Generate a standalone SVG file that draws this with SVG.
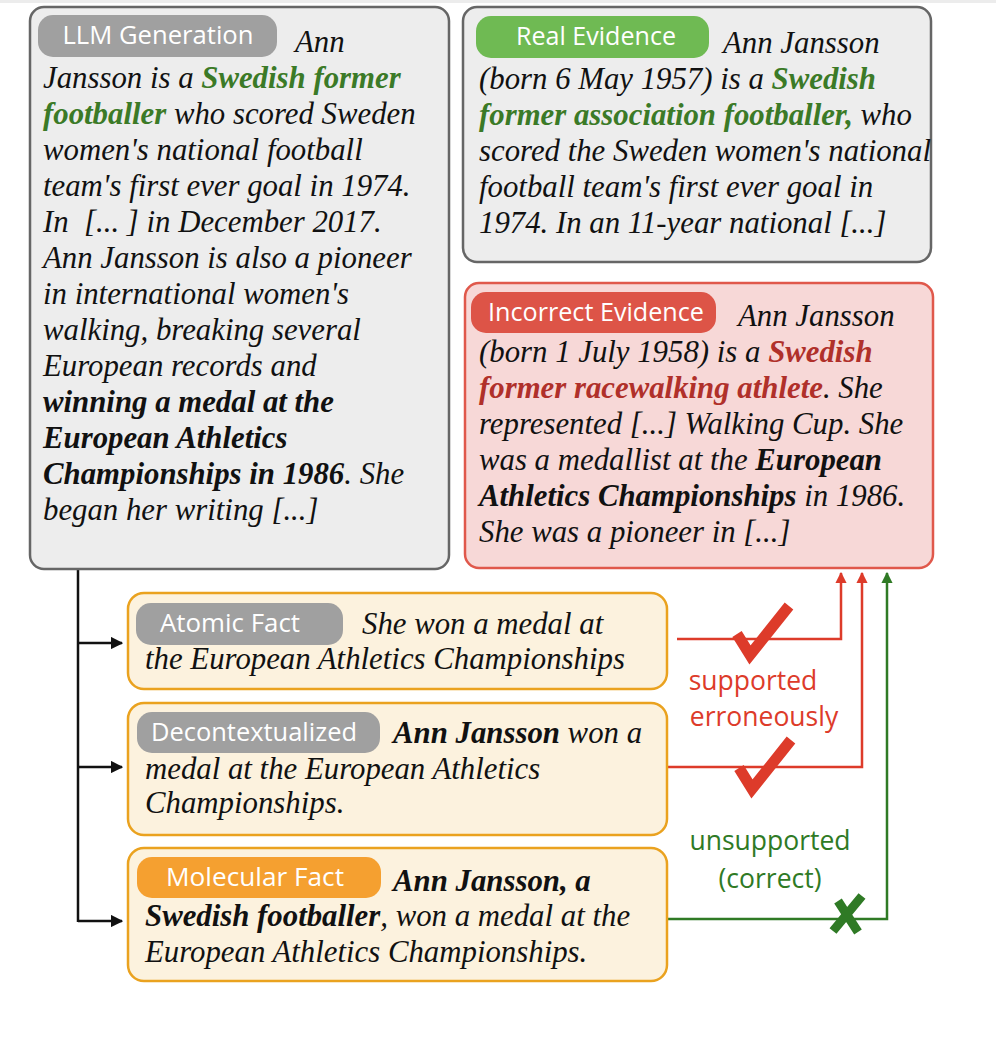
<svg xmlns="http://www.w3.org/2000/svg" width="996" height="1064" viewBox="0 0 996 1064">
<style>
.t{font-family:"Liberation Serif","Times New Roman",serif;font-style:italic;font-size:30.8px;fill:#111}
.b{font-weight:bold}
.g{fill:#3b7a27;font-weight:bold}
.r{fill:#b0302a;font-weight:bold}
.pl{font-family:"Open Sans","Noto Sans",sans-serif;font-size:26px;fill:#fff;text-anchor:middle}
.lab{font-family:"Open Sans","Noto Sans",sans-serif;font-size:26.5px;text-anchor:middle}
.gbox{fill:#ededed;stroke:#666;stroke-width:2.5}
.ybox{fill:#fcf2de;stroke:#eaa21f;stroke-width:2.5}
.conn{fill:none;stroke-width:2.5}
</style>
<defs>
<marker id="ab" viewBox="0 0 10 10" refX="9" refY="5" markerWidth="5" markerHeight="5" orient="auto"><path d="M0,0 L10,5 L0,10 z" fill="#111"/></marker>
<marker id="ar" viewBox="0 0 10 10" refX="9" refY="5" markerWidth="4.5" markerHeight="4.5" orient="auto"><path d="M0,0 L10,5 L0,10 z" fill="#dd3b2a"/></marker>
<marker id="ag" viewBox="0 0 10 10" refX="9" refY="5" markerWidth="4.5" markerHeight="4.5" orient="auto"><path d="M0,0 L10,5 L0,10 z" fill="#2f7a25"/></marker>
</defs>
<rect x="0" y="0" width="996" height="3" fill="#ececec"/>

<g id="connectors">
<path class="conn" stroke="#111" d="M78,569 V922"/>
<path class="conn" stroke="#111" d="M78,643 H122" marker-end="url(#ab)"/>
<path class="conn" stroke="#111" d="M78,767 H122" marker-end="url(#ab)"/>
<path class="conn" stroke="#111" d="M78,921 H122" marker-end="url(#ab)"/>
<path class="conn" stroke="#dd3b2a" d="M677,639 H841 V573" marker-end="url(#ar)"/>
<path class="conn" stroke="#dd3b2a" d="M667,767 H862 V573" marker-end="url(#ar)"/>
<path class="conn" stroke="#2f7a25" d="M667,919 H887 V573" marker-end="url(#ag)"/>
<path d="M737,634 L750,655 L789,606" fill="none" stroke="#dd3b2a" stroke-width="11" stroke-linejoin="miter" stroke-linecap="butt"/>
<path d="M739,768 L752,789 L791,740" fill="none" stroke="#dd3b2a" stroke-width="11" stroke-linejoin="miter" stroke-linecap="butt"/>
<path d="M833,931 L862,896 M838,901 L858,932" fill="none" stroke="#2f7a25" stroke-width="9"/>
<text class="lab" x="753" y="690" fill="#dd3b2a">supported</text>
<text class="lab" x="764" y="726" fill="#dd3b2a">erroneously</text>
<text class="lab" x="770" y="850" fill="#2f7a25">unsupported</text>
<text class="lab" x="770" y="888" fill="#2f7a25">(correct)</text>
</g>

<g id="llm-generation">
<rect class="gbox" x="30" y="7" width="419" height="562" rx="14"/>
<rect x="38" y="15" width="239" height="42" rx="15" fill="#a0a0a0"/>
<text class="pl" x="158" y="44" textLength="191" lengthAdjust="spacingAndGlyphs">LLM Generation</text>
<text class="t" x="295" y="52">Ann</text>
<text class="t" x="43" y="88">Jansson is a <tspan class="g">Swedish former</tspan></text>
<text class="t" x="43" y="124"><tspan class="g">footballer</tspan> who scored Sweden</text>
<text class="t" x="43" y="160">women's national football</text>
<text class="t" x="43" y="196">team's first ever goal in 1974.</text>
<text class="t" x="43" y="232" xml:space="preserve">In  [... ] in December 2017.</text>
<text class="t" x="43" y="268">Ann Jansson is also a pioneer</text>
<text class="t" x="43" y="304">in international women's</text>
<text class="t" x="43" y="340">walking, breaking several</text>
<text class="t" x="43" y="376">European records and</text>
<text class="t b" x="43" y="412">winning a medal at the</text>
<text class="t b" x="43" y="448">European Athletics</text>
<text class="t" x="43" y="484"><tspan class="b">Championships in 1986</tspan>. She</text>
<text class="t" x="43" y="520">began her writing [...]</text>
</g>

<g id="real-evidence">
<rect class="gbox" x="463" y="7" width="468" height="255" rx="14"/>
<rect x="476" y="16" width="233" height="42" rx="15" fill="#6fba53"/>
<text class="pl" x="596" y="45" textLength="160" lengthAdjust="spacingAndGlyphs">Real Evidence</text>
<text class="t" x="723" y="53">Ann Jansson</text>
<text class="t" x="479" y="89">(born 6 May 1957) is a <tspan class="g">Swedish</tspan></text>
<text class="t" x="479" y="125"><tspan class="g">former association footballer,</tspan> who</text>
<text class="t" x="479" y="161">scored the Sweden women's national</text>
<text class="t" x="479" y="197">football team's first ever goal in</text>
<text class="t" x="479" y="233">1974. In an 11-year national [...]</text>
</g>

<g id="incorrect-evidence">
<rect x="465" y="283" width="468" height="285" rx="14" fill="#f7d8d7" stroke="#e0584b" stroke-width="2.5"/>
<rect x="471" y="292" width="245" height="41" rx="15" fill="#dd5447"/>
<text class="pl" x="596" y="321" textLength="216" lengthAdjust="spacingAndGlyphs">Incorrect Evidence</text>
<text class="t" x="738" y="326">Ann Jansson</text>
<text class="t" x="479" y="362">(born 1 July 1958) is a <tspan class="r">Swedish</tspan></text>
<text class="t" x="479" y="398"><tspan class="r">former racewalking athlete</tspan>. She</text>
<text class="t" x="479" y="434">represented [...] Walking Cup. She</text>
<text class="t" x="479" y="470">was a medallist at the <tspan class="b">European</tspan></text>
<text class="t" x="479" y="506"><tspan class="b">Athletics Championships</tspan> in 1986.</text>
<text class="t" x="479" y="542">She was a pioneer in [...]</text>
</g>

<g id="atomic-fact">
<rect class="ybox" x="128" y="593" width="539" height="96" rx="16"/>
<rect x="136" y="603" width="207" height="42" rx="15" fill="#a0a0a0"/>
<text class="pl" x="230" y="632" textLength="140" lengthAdjust="spacingAndGlyphs">Atomic Fact</text>
<text class="t" x="362" y="634">She won a medal at</text>
<text class="t" x="145" y="669">the European Athletics Championships</text>
</g>

<g id="decontextualized">
<rect class="ybox" x="128" y="703" width="539" height="132" rx="16"/>
<rect x="137" y="712" width="243" height="41" rx="15" fill="#a0a0a0"/>
<text class="pl" x="254" y="741" textLength="206" lengthAdjust="spacingAndGlyphs">Decontextualized</text>
<text class="t" x="393" y="743"><tspan class="b">Ann Jansson</tspan> won a</text>
<text class="t" x="145" y="779">medal at the European Athletics</text>
<text class="t" x="145" y="813">Championships.</text>
</g>

<g id="molecular-fact">
<rect class="ybox" x="128" y="848" width="539" height="133" rx="16"/>
<rect x="137" y="857" width="244" height="41" rx="15" fill="#f5a030"/>
<text class="pl" x="255" y="886" textLength="178" lengthAdjust="spacingAndGlyphs">Molecular Fact</text>
<text class="t b" x="393" y="891">Ann Jansson, a</text>
<text class="t" x="145" y="926"><tspan class="b">Swedish footballer</tspan>, won a medal at the</text>
<text class="t" x="145" y="962">European Athletics Championships.</text>
</g>
</svg>
